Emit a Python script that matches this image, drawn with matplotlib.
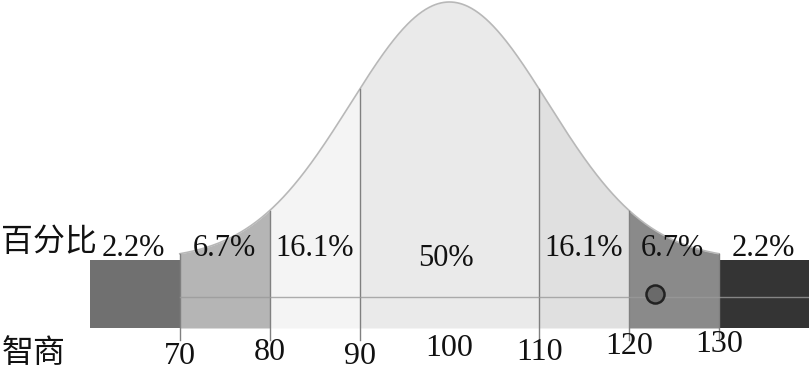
import numpy as np
import matplotlib
matplotlib.use("Agg")
import matplotlib.pyplot as plt

# IQ bands and their share of the population
band_edges = [60, 70, 80, 90, 110, 120, 130, 140]
band_pct = ["2.2%", "6.7%", "16.1%", "50%", "16.1%", "6.7%", "2.2%"]
band_colors = ["#707070", "#b5b5b5", "#f4f4f4", "#eaeaea", "#e0e0e0", "#8a8a8a", "#343434"]
label_x = [64.8, 75.0, 85.0, 99.6, 114.9, 124.8, 134.9]
tick_vals = [70, 80, 90, 100, 110, 120, 130]
tick_y = [-28, -25, -28, -21, -25, -18, -17]

mu, sigma = 100, 11
base_h = 68      # height of the flat strip under the curve
peak_h = 258     # bell height above the strip

serif = ["Liberation Serif", "DejaVu Serif"]
cjk = ["Noto Sans CJK SC", "DejaVu Sans"]


def bell(x):
    return base_h + peak_h * np.exp(-(x - mu) ** 2 / (2 * sigma ** 2))


fig = plt.figure(figsize=(8.09, 3.73), dpi=100)
ax = fig.add_axes([0, 0, 1, 1])
ax.set_xlim(50, 140)
ax.set_ylim(-45, 328)
ax.axis("off")

for i in range(len(band_pct)):
    x0, x1 = band_edges[i], band_edges[i + 1]
    xs = np.linspace(x0, x1, 200)
    if i in (0, len(band_pct) - 1):
        top = np.full_like(xs, base_h)
    else:
        top = bell(xs)
    ax.fill_between(xs, 0, top, color=band_colors[i], lw=0, zorder=1)

# curve outline
xs = np.linspace(70, 130, 600)
ax.plot(xs, bell(xs), color="#b8b8b8", lw=1.2, zorder=2)

# separators
for e in [70, 80, 90, 110, 120, 130]:
    ax.plot([e, e], [-12, bell(e)], color="#808080", lw=1.0, zorder=3)

# horizontal guide
ax.plot([70, 140], [31, 31], color="#9a9a9a", lw=1.0, alpha=0.8, zorder=3)

# small marker
ax.plot([122.9], [34], "o", ms=13, mfc="#6a6a6a", mec="#222222", mew=1.8, zorder=4)

for x, s in zip(label_x, band_pct):
    y = 70 if s == "50%" else 80
    ax.text(x, y, s, ha="center", va="center", fontsize=22, family=serif,
            color="#111111", zorder=5)

for v, y in zip(tick_vals, tick_y):
    ax.text(v, y, str(v), ha="center", va="center", fontsize=23, family=serif,
            color="#111111", zorder=5)

ax.text(50.15, 86, "百分比", ha="left", va="center", fontsize=23, family=cjk,
        color="#111111")
ax.text(50.15, -25, "智商", ha="left", va="center", fontsize=23, family=cjk,
        color="#111111")

fig.savefig("out.png", dpi=100)
